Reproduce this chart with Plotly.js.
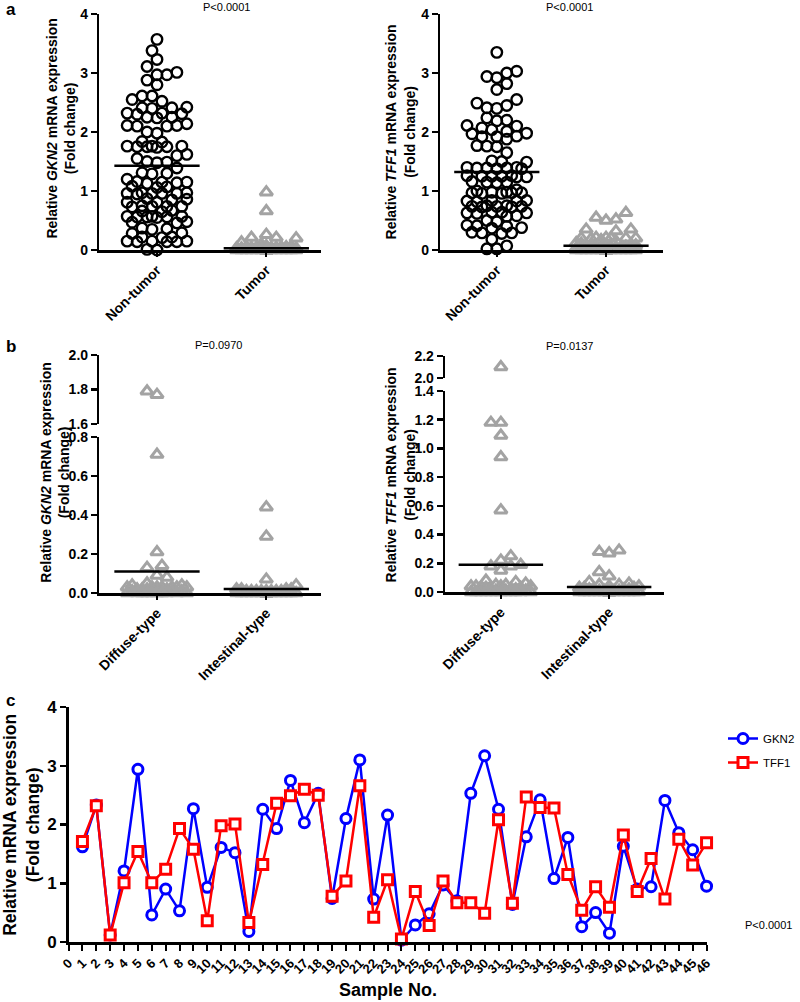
<!DOCTYPE html>
<html><head><meta charset="utf-8">
<script src="https://cdn.plot.ly/plotly-3.0.1.min.js"></script>
<style>html,body{margin:0;padding:0;background:#fff}#chart{width:800px;height:1002px}</style>
</head><body><div id="chart"></div>
<script>
// ---------------- DATA ----------------
const catsA = ['Non-tumor', 'Tumor'];
const catsB = ['Diffuse-type', 'Intestinal-type'];

const gknNonTumor = [3.57,3.38,3.23,3.11,3.01,2.97,2.97,2.88,2.80,2.61,2.61,2.55,2.52,2.42,2.41,2.41,2.40,2.32,2.32,2.31,2.30,2.25,2.25,2.24,2.14,2.11,2.11,2.10,2.10,2.00,1.98,1.84,1.83,1.76,1.76,1.75,1.75,1.74,1.76,1.75,1.62,1.60,1.55,1.50,1.49,1.48,1.39,1.31,1.30,1.29,1.20,1.16,1.15,1.15,1.14,1.13,1.08,1.07,1.06,0.97,0.96,0.96,0.96,0.97,0.95,0.96,0.87,0.86,0.85,0.81,0.81,0.74,0.74,0.73,0.74,0.75,0.66,0.65,0.67,0.57,0.57,0.56,0.56,0.55,0.57,0.56,0.48,0.47,0.46,0.37,0.36,0.35,0.29,0.28,0.22,0.22,0.21,0.15,0.15,0.14,0.14,0.15,0.14,0.01,0.00];
const gknTumor = [0.98,0.66,0.26,0.21,0.21,0.20,0.13,0.10,0.07,0.06,0.05,0.05,0.05,0.04,0.04,0.04,0.04,0.03,0.03,0.03,0.03,0.03,0.02,0.02,0.02,0.02,0.02,0.02,0.02,0.02,0.02,0.02,0.01,0.01,0.01,0.01,0.01,0.01,0.01,0.01,0.01,0.01,0.01,0.01,0.01,0.01,0.01,0.00,0.00,0.00,0.00,0.00,0.00,0.00,0.00,0.00,0.00,0.00,0.00,0.00,0.00,0.00,0.00,0.00,0.00,0.00,0.00,0.00,0.00,0.00,0.00,0.00,0.00,0.00,0.00,0.00,0.00,0.00,0.00,0.00,0.00];
const tffNonTumor = [3.35,3.03,3.00,2.94,2.92,2.82,2.72,2.55,2.49,2.45,2.41,2.40,2.24,2.20,2.19,2.11,2.10,2.07,2.04,2.01,1.98,1.97,1.93,1.92,1.92,1.88,1.77,1.76,1.75,1.65,1.51,1.50,1.49,1.40,1.39,1.39,1.38,1.39,1.40,1.38,1.26,1.25,1.24,1.25,1.26,1.24,1.25,1.16,1.15,1.14,1.15,1.02,1.00,0.98,0.97,0.96,0.97,0.98,0.96,0.97,0.84,0.83,0.82,0.83,0.84,0.75,0.74,0.73,0.74,0.75,0.74,0.73,0.64,0.63,0.62,0.63,0.64,0.58,0.57,0.50,0.48,0.42,0.41,0.40,0.38,0.37,0.30,0.29,0.29,0.28,0.18,0.07,0.02,0.02];
const tffTumor = [0.63,0.55,0.52,0.50,0.35,0.35,0.32,0.21,0.20,0.20,0.20,0.19,0.20,0.21,0.17,0.15,0.12,0.11,0.09,0.08,0.08,0.07,0.06,0.05,0.05,0.05,0.04,0.04,0.04,0.03,0.03,0.03,0.03,0.02,0.02,0.02,0.02,0.02,0.02,0.02,0.02,0.02,0.02,0.01,0.01,0.01,0.01,0.01,0.01,0.01,0.01,0.01,0.01,0.01,0.01,0.00,0.00,0.00,0.00,0.00,0.00,0.00,0.00,0.00,0.00,0.00,0.00,0.00,0.00,0.00,0.00,0.00,0.00,0.00,0.00,0.00,0.00,0.00,0.00,0.00,0.00,0.00,0.00,0.00,0.00];
const meanA_GKN2 = [1.43, 0.03];
const meanA_TFF1 = [1.32, 0.07];

const gknDiffuse = [1.79,1.77,0.71,0.21,0.14,0.13,0.09,0.08,0.05,0.04,0.04,0.03,0.03,0.03,0.03,0.03,0.03,0.03,0.02,0.02,0.02,0.02,0.01,0.01,0.01,0.01,0.01,0.01,0.00,0.00,0.00,0.00,0.00,0.00,0.00,0.00,0.00,0.00];
const gknIntestinal = [0.44,0.29,0.07,0.04,0.02,0.02,0.02,0.02,0.01,0.01,0.01,0.01,0.01,0.01,0.01,0.01,0.00,0.00,0.00,0.00,0.00,0.00,0.00,0.00,0.00,0.00,0.00,0.00,0.00,0.00,0.00,0.00,0.00,0.00,0.00,0.00,0.00,0.00];
const tffDiffuse = [2.10,1.18,1.18,1.09,0.94,0.57,0.25,0.22,0.19,0.18,0.18,0.15,0.08,0.07,0.06,0.05,0.05,0.04,0.04,0.04,0.04,0.03,0.03,0.03,0.02,0.02,0.02,0.01,0.01,0.01,0.01,0.00,0.00,0.00,0.00,0.00,0.00,0.00,0.00,0.00,0.00,0.00,0.00];
const tffIntestinal = [0.29,0.28,0.27,0.14,0.11,0.07,0.06,0.05,0.05,0.04,0.04,0.03,0.03,0.03,0.02,0.02,0.02,0.02,0.01,0.01,0.01,0.01,0.01,0.00,0.00,0.00,0.00,0.00,0.00,0.00,0.00,0.00,0.00,0.00,0.00,0.00,0.00,0.00,0.00,0.00,0.00];
const meanB_GKN2 = [0.11, 0.02];
const meanB_TFF1 = [0.19, 0.035];

const sampleNo = [1,2,3,4,5,6,7,8,9,10,11,12,13,14,15,16,17,18,19,20,21,22,23,24,25,26,27,28,29,30,31,32,33,34,35,36,37,38,39,40,41,42,43,44,45,46];
const gkn2C = [1.62,2.33,0.12,1.21,2.94,0.46,0.90,0.53,2.27,0.93,1.61,1.52,0.18,2.26,1.93,2.75,2.03,2.53,0.74,2.10,3.10,0.73,2.16,0.03,0.29,0.48,0.97,0.70,2.53,3.17,2.26,0.64,1.79,2.42,1.08,1.78,0.26,0.50,0.15,1.63,0.90,0.94,2.41,1.86,1.57,0.95];
const tff1C = [1.71,2.32,0.12,1.01,1.54,1.01,1.24,1.93,1.58,0.36,1.98,2.01,0.33,1.32,2.36,2.49,2.60,2.50,0.78,1.04,2.66,0.42,1.06,0.05,0.86,0.28,1.04,0.67,0.67,0.49,2.08,0.66,2.47,2.29,2.28,1.15,0.54,0.94,0.59,1.82,0.86,1.42,0.73,1.75,1.31,1.69];
const sampleTicks = [0,1,2,3,4,5,6,7,8,9,10,11,12,13,14,15,16,17,18,19,20,21,22,23,24,25,26,27,28,29,30,31,32,33,34,35,36,37,38,39,40,41,42,43,44,45,46];

// ---------------- HELPERS ----------------
const W = 800, H = 1002;
const FONT = 'Liberation Sans, Arial, sans-serif';
const px = x => x / W;
const py = y => 1 - y / H;
const GRAY = '#a3a3a3';

// Greedy scatter-dot (beeswarm) layout in pixel space, capped width; returns category-unit x positions
function swarm(values, center, pxPerX, pxPerY, markerPx, maxHalfPx) {
  const order = values.map((v, i) => i).sort((a, b) => values[a] - values[b]);
  const placed = []; // {ox, oy}
  const xs = new Array(values.length);
  const step = markerPx / 2;
  const cands = [0];
  for (let k = 1; k * step <= maxHalfPx + 0.01; k++) { cands.push(k * step, -k * step); }
  let flip = 1;
  order.forEach(i => {
    const oy = values[i] * pxPerY;
    let best = null, bestScore = -1;
    for (const c0 of cands) {
      const c = c0 * flip;
      let minD = Infinity;
      for (const p of placed) {
        const d = Math.hypot(p.ox - c, p.oy - oy);
        if (d < minD) minD = d;
      }
      if (minD >= markerPx * 0.98) { best = c; bestScore = Infinity; break; }
      if (minD > bestScore) { bestScore = minD; best = c; }
    }
    flip = -flip;
    placed.push({ox: best, oy: oy});
    xs[i] = center + best / pxPerX;
  });
  return xs;
}

const circleMk = {symbol: 'circle-open', size: 10.5, color: 'black', line: {width: 2.4, color: 'black'}};
const triMk = {symbol: 'triangle-up-open', size: 11, color: GRAY, line: {width: 3, color: GRAY}};
const meanLine = {color: 'black', width: 2.5};
const HALF = 0.39;

function dots(vals, center, pxX, pxY, mk, xa, ya, filterFn) {
  const xs = swarm(vals, center, pxX, pxY, 10, 32);
  const X = [], Y = [];
  vals.forEach((v, i) => { if (!filterFn || filterFn(v)) { X.push(xs[i]); Y.push(v); } });
  return {type: 'scatter', mode: 'markers', x: X, y: Y, marker: mk, xaxis: xa, yaxis: ya,
          showlegend: false, cliponaxis: false, hoverinfo: 'skip'};
}
function mline(c, m, xa, ya) {
  return {type: 'scatter', mode: 'lines', x: [c - HALF, c + HALF], y: [m, m], line: meanLine,
          xaxis: xa, yaxis: ya, showlegend: false, cliponaxis: false, hoverinfo: 'skip'};
}

const traces = [];
// Panel a left (GKN2)
traces.push(dots(gknNonTumor, 0, 110, 59, circleMk, 'x', 'y'));
traces.push(dots(gknTumor, 1, 110, 59, triMk, 'x', 'y'));
traces.push(mline(0, meanA_GKN2[0], 'x', 'y'));
traces.push(mline(1, meanA_GKN2[1], 'x', 'y'));
// Panel a right (TFF1)
traces.push(dots(tffNonTumor, 0, 110, 59, circleMk, 'x2', 'y2'));
traces.push(dots(tffTumor, 1, 110, 59, triMk, 'x2', 'y2'));
traces.push(mline(0, meanA_TFF1[0], 'x2', 'y2'));
traces.push(mline(1, meanA_TFF1[1], 'x2', 'y2'));
// Panel b left (GKN2) broken axis
const brkL = 1.0, brkR = 1.7;
traces.push(dots(gknDiffuse.filter(v => v < brkL), 0, 110, 195, triMk, 'x3', 'y3'));
traces.push(dots(gknDiffuse.filter(v => v >= brkL), 0, 110, 172, triMk, 'x3', 'y4'));
traces.push(dots(gknIntestinal, 1, 110, 195, triMk, 'x3', 'y3'));
traces.push(mline(0, meanB_GKN2[0], 'x3', 'y3'));
traces.push(mline(1, meanB_GKN2[1], 'x3', 'y3'));
// Panel b right (TFF1) broken axis
traces.push(dots(tffDiffuse.filter(v => v < brkR), 0, 109, 143.6, triMk, 'x4', 'y5'));
traces.push(dots(tffDiffuse.filter(v => v >= brkR), 0, 109, 110, triMk, 'x4', 'y6'));
traces.push(dots(tffIntestinal, 1, 109, 143.6, triMk, 'x4', 'y5'));
traces.push(mline(0, meanB_TFF1[0], 'x4', 'y5'));
traces.push(mline(1, meanB_TFF1[1], 'x4', 'y5'));
// Panel c
traces.push({type: 'scatter', mode: 'lines+markers', name: 'GKN2', x: sampleNo, y: gkn2C,
  xaxis: 'x5', yaxis: 'y7', line: {color: '#0000ff', width: 2.5},
  marker: {symbol: 'circle', size: 10, color: 'white', line: {color: '#0000ff', width: 3}},
  cliponaxis: false, legendgroup: 'g1', hoverinfo: 'skip'});
traces.push({type: 'scatter', mode: 'lines+markers', name: 'TFF1', x: sampleNo, y: tff1C,
  xaxis: 'x5', yaxis: 'y7', line: {color: '#ff0000', width: 2.5},
  marker: {symbol: 'square', size: 10, color: 'white', line: {color: '#ff0000', width: 3}},
  cliponaxis: false, legendgroup: 'g2', hoverinfo: 'skip'});

// ---------------- AXES ----------------
const bold = (s) => ({family: FONT, size: s, color: 'black', weight: 'bold'});
function xCat(d0, d1, r, anchor, ticktext) {
  return {domain: [px(d0), px(d1)], range: r, anchor: anchor, showline: true, linewidth: 2.5, linecolor: 'black',
    tickvals: [0, 1], ticktext: ticktext, ticks: 'outside', ticklen: 4, tickwidth: 2, tickcolor: 'black',
    tickangle: -45, tickfont: bold(14), showgrid: false, zeroline: false, fixedrange: true};
}
function yAx(top, bot, r, dtick, anchor, fs, fmt) {
  return {domain: [py(bot), py(top)], range: r, dtick: dtick, tick0: 0, anchor: anchor, showline: true,
    linewidth: 2.5, linecolor: 'black', ticks: 'outside', ticklen: 6, tickwidth: 2.5, tickcolor: 'black',
    tickfont: bold(fs), showgrid: false, zeroline: false, fixedrange: true, tickformat: fmt || ''};
}

const layout = {
  width: W, height: H, margin: {l: 0, r: 0, t: 0, b: 0}, paper_bgcolor: 'white', plot_bgcolor: 'rgba(0,0,0,0)',
  font: {family: FONT, color: 'black'},
  showlegend: true,
  legend: {x: px(728), y: py(724), xanchor: 'left', yanchor: 'top', font: {family: FONT, size: 11.5, color: 'black'},
    bgcolor: 'rgba(0,0,0,0)', traceorder: 'grouped', tracegroupgap: 5},
  xaxis: xCat(100, 323, [-0.527, 1.5], 'y', catsA),
  yaxis: yAx(14, 250, [0, 4], 1, 'x', 14),
  xaxis2: xCat(443, 667, [-0.518, 1.52], 'y2', catsA),
  yaxis2: yAx(14, 250, [0, 4], 1, 'x2', 14),
  xaxis3: xCat(100, 323, [-0.527, 1.5], 'y3', catsB),
  yaxis3: yAx(437, 593, [0, 0.8], 0.2, 'x3', 14, '.1f'),
  yaxis4: yAx(355, 424, [1.6, 2.0], 0.2, 'x3', 14, '.1f'),
  xaxis4: xCat(448, 668, [-0.514, 1.505], 'y5', catsB),
  yaxis5: yAx(391, 592, [0, 1.4], 0.2, 'x4', 14, '.1f'),
  yaxis6: yAx(356, 378, [2.0, 2.2], 0.2, 'x4', 14, '.1f'),
  xaxis5: {domain: [px(69), px(711)], range: [0, 46], anchor: 'y7', showline: true, linewidth: 2.5, linecolor: 'black',
    tickvals: sampleTicks, ticktext: sampleTicks.map(String), ticks: 'outside', ticklen: 6, tickwidth: 2, tickcolor: 'black',
    tickangle: -45, tickfont: bold(13), showgrid: false, zeroline: false, fixedrange: true},
  yaxis7: yAx(707, 942, [0, 4], 1, 'x5', 17),
  annotations: []
};

function ann(text, x, y, size, opts) {
  layout.annotations.push(Object.assign({text: text, x: px(x), y: py(y), xref: 'paper', yref: 'paper',
    showarrow: false, xanchor: 'center', yanchor: 'middle', font: {family: FONT, size: size, color: 'black'}}, opts || {}));
}
const B = s => ({family: FONT, size: s, color: 'black', weight: 'bold'});
ann('a', 4, 9, 17, {xanchor: 'left', font: B(17)});
ann('b', 4, 347, 17, {xanchor: 'left', font: B(17)});
ann('c', 4, 700, 17, {xanchor: 'left', font: B(17)});
ann('P<0.0001', 228, 7, 11);
ann('P<0.0001', 573, 7, 11);
ann('P=0.0970', 220, 345, 11);
ann('P=0.0137', 573, 346, 11);
ann('P<0.0001', 773, 925, 11);
ann('Relative <i>GKN2</i> mRNA expression<br>(Fold change)', 61, 129, 14, {textangle: -90, font: B(14)});
ann('Relative <i>TFF1</i> mRNA expression<br>(Fold change)', 403, 132, 14, {textangle: -90, font: B(14)});
ann('Relative <i>GKN2</i> mRNA expression<br>(Fold change)', 55, 473, 14, {textangle: -90, font: B(14)});
ann('Relative <i>TFF1</i> mRNA expression<br>(Fold change)', 403, 475, 14, {textangle: -90, font: B(14)});
ann('Relative mRNA expression<br>(Fold change)', 21, 825, 17.5, {textangle: -90, font: B(17.5)});
ann('Sample No.', 390, 990, 18, {font: B(18)});

Plotly.newPlot('chart', traces, layout, {displayModeBar: false, staticPlot: true});
</script>
</body></html>
